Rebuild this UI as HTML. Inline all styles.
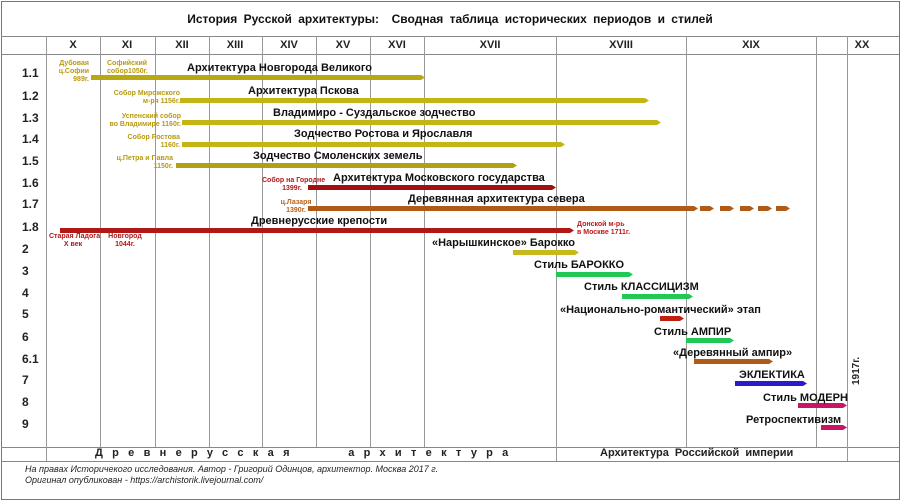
<!DOCTYPE html>
<html><head><meta charset="utf-8"><style>
body{margin:0;width:900px;height:500px;background:#fff;position:relative;overflow:hidden;font-family:"Liberation Sans","DejaVu Sans",sans-serif;}
.a{position:absolute;white-space:nowrap}
.v{position:absolute;top:36px;height:411px;width:1px;background:#999}
.h{position:absolute;left:1px;width:898px;height:1px;background:#888}
.c{position:absolute;top:39px;font-size:11px;font-weight:bold;color:#222;transform:translateX(-50%)}
.r{position:absolute;left:22px;font-size:12px;font-weight:bold;color:#222}
.b{position:absolute;height:5px;clip-path:polygon(0 0,calc(100% - 4px) 0,100% 50%,calc(100% - 4px) 100%,0 100%)}
.t{position:absolute;font-size:11px;font-weight:bold;color:#111;white-space:nowrap}
.s{position:absolute;font-size:7px;font-weight:bold;text-align:right;line-height:8px;white-space:nowrap}
</style></head><body>
<div style="position:absolute;left:1px;top:1px;width:897px;height:497px;border:1px solid #777"></div>
<div class="a" style="left:0;width:900px;top:12px;text-align:center;font-size:12px;font-weight:bold;color:#111;word-spacing:3px">История Русской архитектуры:&nbsp; Сводная таблица исторических периодов и стилей</div>
<div class="h" style="top:36px"></div><div class="h" style="top:54px"></div>
<div class="h" style="top:447px"></div><div class="h" style="top:461px"></div>
<div class="v" style="left:46px;height:425px"></div><div class="v" style="left:100px"></div><div class="v" style="left:155px"></div><div class="v" style="left:209px"></div><div class="v" style="left:262px"></div><div class="v" style="left:316px"></div><div class="v" style="left:370px"></div><div class="v" style="left:424px"></div><div class="v" style="left:556px;height:425px"></div><div class="v" style="left:686px"></div><div class="v" style="left:816px"></div><div class="v" style="left:847px;height:425px"></div>
<div class="c" style="left:73px">X</div><div class="c" style="left:127px">XI</div><div class="c" style="left:182px">XII</div><div class="c" style="left:235px">XIII</div><div class="c" style="left:289px">XIV</div><div class="c" style="left:343px">XV</div><div class="c" style="left:397px">XVI</div><div class="c" style="left:490px">XVII</div><div class="c" style="left:621px">XVIII</div><div class="c" style="left:751px">XIX</div><div class="c" style="left:862px">XX</div>
<div class="r" style="top:66px">1.1</div><div class="r" style="top:89px">1.2</div><div class="r" style="top:111px">1.3</div><div class="r" style="top:132px">1.4</div><div class="r" style="top:154px">1.5</div><div class="r" style="top:176px">1.6</div><div class="r" style="top:197px">1.7</div><div class="r" style="top:220px">1.8</div><div class="r" style="top:242px">2</div><div class="r" style="top:264px">3</div><div class="r" style="top:286px">4</div><div class="r" style="top:307px">5</div><div class="r" style="top:330px">6</div><div class="r" style="top:352px">6.1</div><div class="r" style="top:373px">7</div><div class="r" style="top:395px">8</div><div class="r" style="top:417px">9</div>
<div class="b" style="left:91px;top:75px;width:334px;background:#b8a812"></div>
<div class="b" style="left:180px;top:98px;width:469px;background:#c4b414"></div>
<div class="b" style="left:182px;top:120px;width:479px;background:#c4b414"></div>
<div class="b" style="left:182px;top:142px;width:383px;background:#c4b414"></div>
<div class="b" style="left:176px;top:163px;width:341px;background:#b0a012"></div>
<div class="b" style="left:308px;top:185px;width:248px;background:#a01010"></div>
<div class="b" style="left:308px;top:206px;width:390px;background:#b05a18"></div>
<div class="b" style="left:700px;top:206px;width:14px;background:#b05a18"></div><div class="b" style="left:720px;top:206px;width:14px;background:#b05a18"></div><div class="b" style="left:740px;top:206px;width:14px;background:#b05a18"></div><div class="b" style="left:758px;top:206px;width:14px;background:#b05a18"></div><div class="b" style="left:776px;top:206px;width:14px;background:#b05a18"></div>
<div class="b" style="left:60px;top:228px;width:514px;background:#b01818"></div>
<div class="b" style="left:513px;top:250px;width:66px;background:#c8b81c"></div>
<div class="b" style="left:556px;top:272px;width:77px;background:#22c855"></div>
<div class="b" style="left:622px;top:294px;width:71px;background:#22c855"></div>
<div class="b" style="left:660px;top:316px;width:24px;background:#c02010"></div>
<div class="b" style="left:686px;top:338px;width:48px;background:#22c855"></div>
<div class="b" style="left:694px;top:359px;width:79px;background:#b05a18"></div>
<div class="b" style="left:735px;top:381px;width:72px;background:#2a1ccc"></div>
<div class="b" style="left:798px;top:403px;width:49px;background:#cc1466"></div>
<div class="b" style="left:821px;top:425px;width:26px;background:#cc1466"></div>
<div class="t" style="left:187px;top:62px">Архитектура Новгорода Великого</div>
<div class="t" style="left:248px;top:85px">Архитектура Пскова</div>
<div class="t" style="left:273px;top:107px">Владимиро - Суздальское зодчество</div>
<div class="t" style="left:294px;top:128px">Зодчество Ростова и Ярославля</div>
<div class="t" style="left:253px;top:150px">Зодчество Смоленских земель</div>
<div class="t" style="left:333px;top:172px">Архитектура Московского государства</div>
<div class="t" style="left:408px;top:193px">Деревянная архитектура севера</div>
<div class="t" style="left:251px;top:215px">Древнерусские крепости</div>
<div class="t" style="left:432px;top:237px">«Нарышкинское» Барокко</div>
<div class="t" style="left:534px;top:259px">Стиль БАРОККО</div>
<div class="t" style="left:584px;top:281px">Стиль КЛАССИЦИЗМ</div>
<div class="t" style="left:560px;top:304px">«Национально-романтический» этап</div>
<div class="t" style="left:654px;top:326px">Стиль АМПИР</div>
<div class="t" style="left:673px;top:347px">«Деревянный ампир»</div>
<div class="t" style="left:739px;top:369px">ЭКЛЕКТИКА</div>
<div class="t" style="left:763px;top:392px">Стиль МОДЕРН</div>
<div class="t" style="left:746px;top:414px">Ретроспективизм</div>
<div class="s" style="right:811px;top:60px;color:#b89a10">Дубовая<br>ц.Софии<br>989г.</div>
<div class="s" style="left:107px;top:60px;color:#b89a10;text-align:left">Софийский<br>собор1050г.</div>
<div class="s" style="right:720px;top:90px;color:#b89a10">Собор Мирожского<br>м-ря 1156г.</div>
<div class="s" style="right:719px;top:113px;color:#b89a10">Успенский собор<br>во Владимире 1160г.</div>
<div class="s" style="right:720px;top:134px;color:#b89a10">Собор Ростова<br>1160г.</div>
<div class="s" style="right:727px;top:155px;color:#b89a10">ц.Петра и Павла<br>1150г.</div>
<div class="s" style="left:262px;top:177px;width:60px;color:#b01818;text-align:center">Собор на Городне<br>1399г.</div>
<div class="s" style="left:278px;top:199px;width:36px;color:#b8601a;text-align:center">ц.Лазаря<br>1390г.</div>
<div class="s" style="left:49px;top:233px;width:48px;color:#b01818;text-align:center">Старая Ладога<br>X век</div>
<div class="s" style="left:104px;top:233px;width:42px;color:#b01818;text-align:center">Новгород<br>1044г.</div>
<div class="s" style="left:577px;top:221px;color:#c01818;text-align:left">Донской м-рь<br>в Москве 1711г.</div>
<div class="a" style="left:851px;top:385px;transform:rotate(-90deg);transform-origin:0 0;font-size:10px;font-weight:bold;color:#222">1917г.</div>
<div class="a" style="left:95px;top:447px;font-size:11px;font-weight:bold;color:#222;letter-spacing:9.3px">Древнерусская&nbsp;&nbsp;&nbsp; архитектура</div>
<div class="a" style="left:600px;top:447px;font-size:11px;font-weight:bold;color:#222;word-spacing:3px">Архитектура Российской империи</div>
<div class="a" style="left:25px;top:464px;font-size:9px;font-style:italic;color:#222;line-height:11px">На правах Историчекого исследования. Автор - Григорий Одинцов, архитектор. Москва 2017 г.<br>Оригинал опубликован - https://archistorik.livejournal.com/</div>
</body></html>
